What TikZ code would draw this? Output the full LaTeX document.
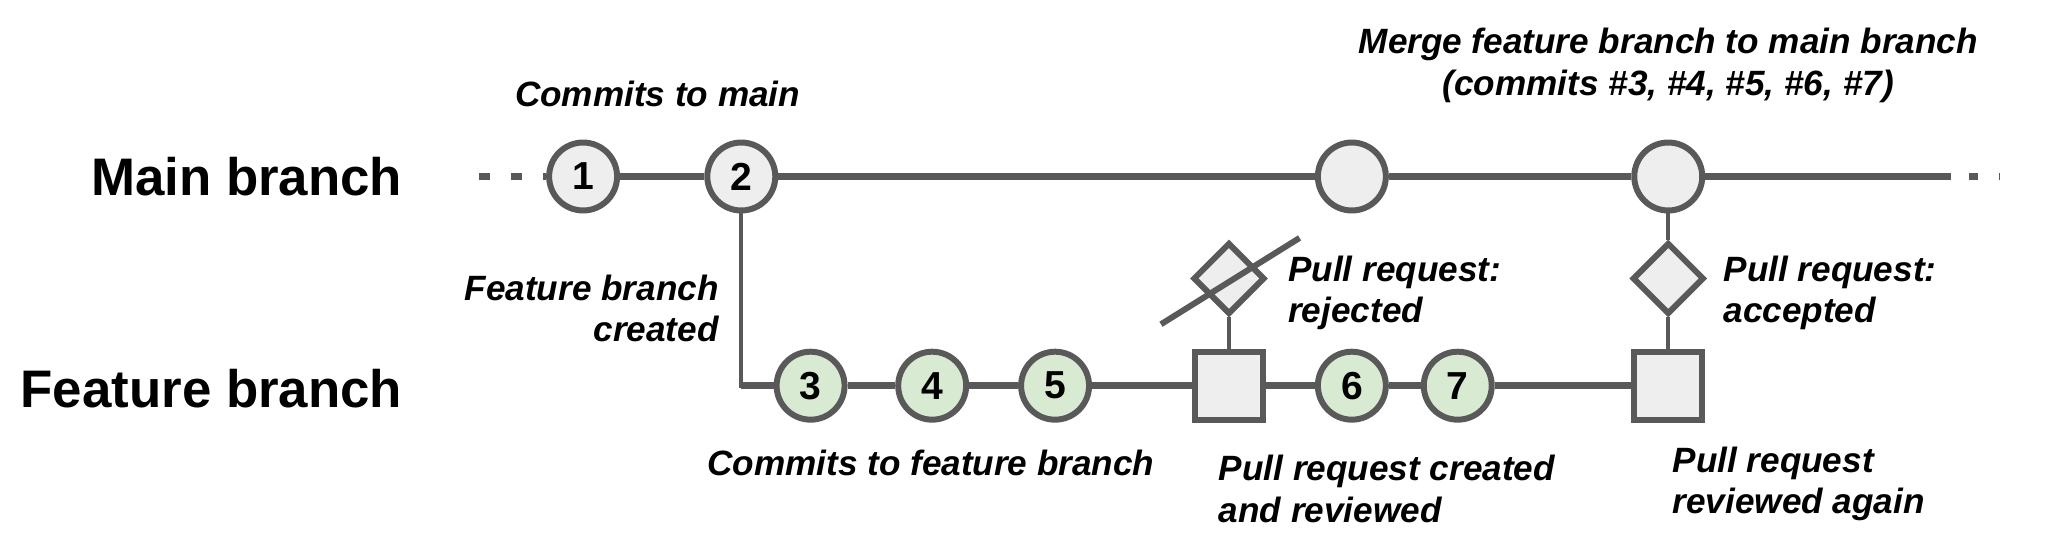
\documentclass[tikz,border=0pt]{standalone}
\usepackage{fontspec}
\setmainfont{Liberation Sans}
\usetikzlibrary{shapes.geometric}
\definecolor{edgegray}{HTML}{595959}
\definecolor{nodegray}{HTML}{EEEEEE}
\definecolor{nodegreen}{HTML}{D9EAD3}
\tikzset{
  commit/.style={circle,draw=edgegray,line width=2.6pt,fill=nodegray,minimum size=1.04cm,inner sep=0pt,font=\fontsize{17}{20}\selectfont\bfseries},
  fcommit/.style={commit,fill=nodegreen},
  review/.style={rectangle,draw=edgegray,line width=2.6pt,fill=nodegray,minimum size=1.04cm,inner sep=0pt},
  decision/.style={diamond,draw=edgegray,line width=2.6pt,fill=nodegray,minimum size=1.1cm,inner sep=0pt},
  branch/.style={draw=edgegray,line width=3pt},
  thin/.style={draw=edgegray,line width=1.8pt},
  lbl/.style={font=\fontsize{15.3}{18}\selectfont\bfseries\itshape,align=left,inner sep=0pt},
  title/.style={font=\fontsize{23}{28}\selectfont\bfseries,anchor=east,inner sep=0pt}
}
\begin{document}
\begin{tikzpicture}[x=0.02cm,y=-0.02cm]
    \useasboundingbox (0,0) rectangle (1568,416);
    \node[title] (mainlbl) at (308,135) {Main branch};
    \node[title] (featlbl) at (308,297) {Feature branch};

    \coordinate (mstart) at (366,135);
    \coordinate (mend) at (1492,135);
    \coordinate (mdots) at (1530,135);
    \coordinate (corner) at (567,295);

    \node[commit] (c1) at (446,135) {1};
    \node[commit] (c2) at (567,135) {2};
    \node[commit] (m1) at (1034,135) {};
    \node[commit] (m2) at (1276,135) {};

    \node[fcommit] (c3) at (620,295) {3};
    \node[fcommit] (c4) at (713,295) {4};
    \node[fcommit] (c5) at (807,295) {5};
    \node[review] (r1) at (940,295) {};
    \node[fcommit] (c6) at (1034,295) {6};
    \node[fcommit] (c7) at (1115,295) {7};
    \node[review] (r2) at (1276,295) {};

    \node[decision] (d1) at (940,213) {};
    \node[decision] (d2) at (1276,213) {};

    % main branch
    \path[branch,dash pattern=on 5pt off 9pt] (mstart) -- (c1);
    \path[branch] (c1) -- (c2) (c2) -- (m1) (m1) -- (m2) (m2) -- (mend);
    \path[branch,dash pattern=on 0pt off 8pt on 4pt off 9pt on 4pt off 20pt] (mend) -- (mdots);
    % feature branch
    \path[thin] (c2) |- (c3);
    \path[branch] (corner) -- (c3) (c3) -- (c4) (c4) -- (c5) (c5) -- (r1)
        (r1) -- (c6) (c6) -- (c7) (c7) -- (r2);
    \path[thin] (r1) -- (d1) (r2) -- (d2) (d2) -- (m2);
    \coordinate (xa) at (888,248);
    \coordinate (xb) at (994,182);
    \path[thin,line width=2.6pt] (xa) -- (xb);

    % labels
    \node[lbl,align=center] (l1) at (503,72) {Commits to main};
    \node[lbl,align=center] (l2) at (1276,50) {Merge feature branch to main branch\\(commits \#3, \#4, \#5, \#6, \#7)};
    \node[lbl,align=right,anchor=east] (l3) at (550,236) {Feature branch\\created};
    \node[lbl,anchor=west] (l4) at (985,224) {Pull request:\\rejected};
    \node[lbl,anchor=west] (l5) at (1318,224) {Pull request:\\accepted};
    \node[lbl,align=center] (l6) at (712,354) {Commits to feature branch};
    \node[lbl,anchor=west] (l7) at (932,374) {Pull request created\\and reviewed};
    \node[lbl,anchor=west] (l8) at (1279,370) {Pull request\\reviewed again};
\end{tikzpicture}
\end{document}
